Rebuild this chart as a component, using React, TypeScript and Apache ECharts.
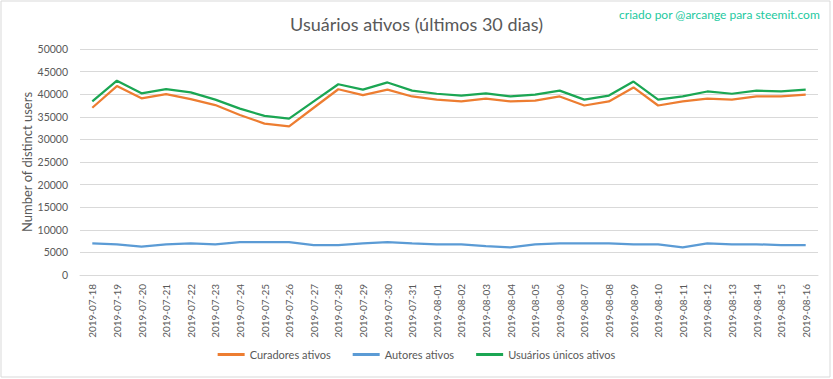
import React, { useEffect, useRef } from "react";
import * as echarts from "echarts";

const categories = [
  "2019-07-18", "2019-07-19", "2019-07-20", "2019-07-21", "2019-07-22", "2019-07-23",
  "2019-07-24", "2019-07-25", "2019-07-26", "2019-07-27", "2019-07-28", "2019-07-29",
  "2019-07-30", "2019-07-31", "2019-08-01", "2019-08-02", "2019-08-03", "2019-08-04",
  "2019-08-05", "2019-08-06", "2019-08-07", "2019-08-08", "2019-08-09", "2019-08-10",
  "2019-08-11", "2019-08-12", "2019-08-13", "2019-08-14", "2019-08-15", "2019-08-16",
];

const curadores = [
  37000, 41800, 39100, 40000, 38900, 37600, 35400, 33500, 32900, 37000,
  41100, 39800, 41000, 39500, 38800, 38400, 39000, 38400, 38600, 39500,
  37500, 38400, 41500, 37500, 38400, 39000, 38800, 39500, 39500, 39900,
];

const autores = [
  7000, 6800, 6300, 6800, 7000, 6800, 7250, 7250, 7250, 6600,
  6600, 7000, 7250, 7000, 6800, 6800, 6400, 6100, 6750, 7000,
  7000, 7000, 6800, 6800, 6100, 7000, 6800, 6800, 6600, 6600,
];

const unicos = [
  38400, 43000, 40200, 41100, 40400, 38800, 36800, 35200, 34600, 38400,
  42200, 41000, 42600, 40800, 40100, 39700, 40200, 39500, 39900, 40800,
  38800, 39700, 42800, 38800, 39500, 40600, 40100, 40800, 40600, 41000,
];

const TXT = "#595959";
const GRID = "#D9D9D9";
const FONT = "Lato, 'Open Sans', sans-serif";

export default function App() {
  const ref = useRef<HTMLDivElement>(null);
  useEffect(() => {
    if (!ref.current) return;
    const chart = echarts.init(ref.current, undefined, { renderer: "svg" });
    chart.setOption({
      animation: false,
      backgroundColor: "#ffffff",
      textStyle: { fontFamily: FONT },
      title: {
        text: "Usuários ativos (últimos 30 dias)",
        left: "center",
        top: 10,
        textStyle: { color: TXT, fontSize: 18, fontWeight: "normal", fontFamily: FONT },
      },
      graphic: [
        {
          type: "rect",
          shape: { x: 1, y: 1, width: 829, height: 376 },
          style: { fill: "none", stroke: GRID, lineWidth: 1 },
          silent: true,
        },
        {
          type: "text",
          right: 13,
          top: 8,
          style: { text: "criado por @arcange para steemit.com", fill: "#1DC9A0", font: "12px " + FONT },
        },
      ],
      legend: {
        bottom: 14,
        left: "center",
        itemGap: 22,
        itemWidth: 27,
        itemHeight: 3,
        icon: "rect",
        textStyle: { color: TXT, fontSize: 11, fontFamily: FONT },
        data: ["Curadores ativos", "Autores ativos", "Usuários únicos ativos"],
      },
      grid: { left: 80, right: 15, top: 49, bottom: 104, containLabel: false },
      xAxis: {
        type: "category",
        data: categories,
        boundaryGap: true,
        axisLine: { lineStyle: { color: GRID } },
        axisTick: { show: false },
        axisLabel: { rotate: 90, fontSize: 10, color: TXT, margin: 9, interval: 0, fontFamily: FONT },
      },
      yAxis: {
        type: "value",
        min: 0,
        max: 50000,
        interval: 5000,
        name: "Number of distinct users",
        nameLocation: "middle",
        nameGap: 47,
        nameMoveOverlap: false,
        nameTextStyle: { color: TXT, fontSize: 13, fontFamily: FONT },
        axisLine: { show: false },
        axisTick: { show: false },
        splitLine: { lineStyle: { color: GRID } },
        axisLabel: {
          fontSize: 10.5,
          color: TXT,
          margin: 12,
          fontFamily: FONT,
          formatter: (v: number) => String(v),
        },
      },
      series: [
        {
          name: "Curadores ativos",
          type: "line",
          data: curadores,
          symbol: "none",
          color: "#ED7D31",
          lineStyle: { width: 2.25, color: "#ED7D31" },
        },
        {
          name: "Autores ativos",
          type: "line",
          data: autores,
          symbol: "none",
          color: "#5B9BD5",
          lineStyle: { width: 2.25, color: "#5B9BD5" },
        },
        {
          name: "Usuários únicos ativos",
          type: "line",
          data: unicos,
          symbol: "none",
          color: "#1BA653",
          lineStyle: { width: 2.25, color: "#1BA653" },
        },
      ],
    });
    return () => chart.dispose();
  }, []);
  return (
    <div style={{ position: "absolute", left: 0, top: 0 }}>
      <div ref={ref} style={{ width: 833, height: 379 }} />
    </div>
  );
}
